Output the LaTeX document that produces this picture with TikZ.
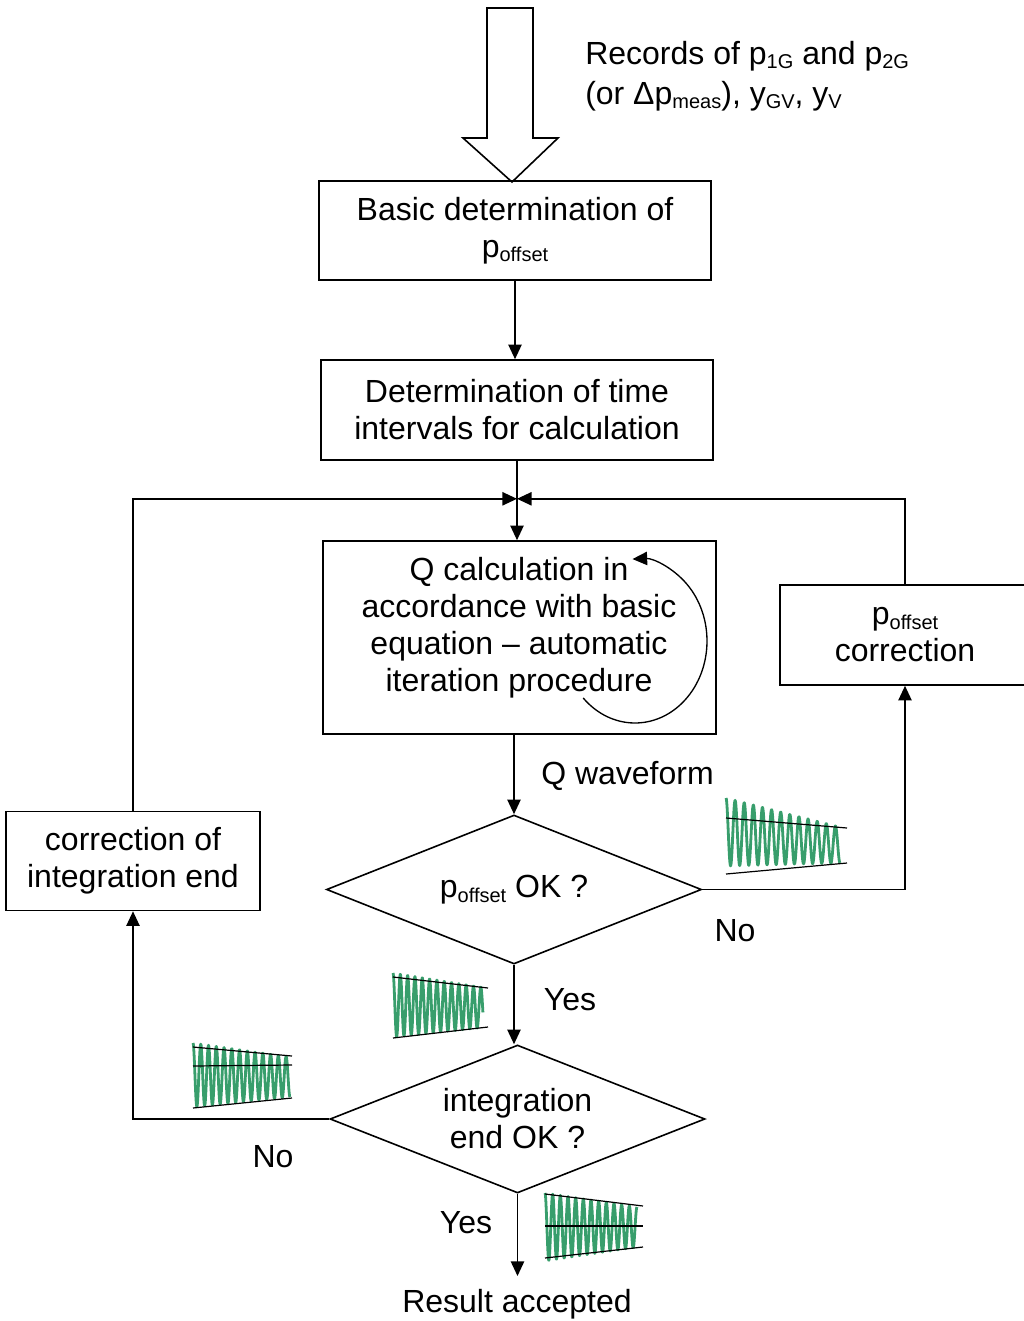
\documentclass[tikz,border=0pt]{standalone}
\usepackage{fontspec}
\setmainfont{Liberation Sans}
\usetikzlibrary{arrows.meta,shapes.geometric,calc}
\definecolor{wavegreen}{RGB}{56,158,108}
\newcommand{\lowsub}[1]{\raisebox{-3.5pt}{\fontsize{15}{15}\selectfont #1}}
% x0 x1 c0 c1 a0 a1 cycles
\newcommand{\wavedraw}[7]{%
  \draw[wavestyle] plot[domain=0:1,samples=300,variable=\t]
    ({#1+(#2-#1)*\t},{#3+(#4-#3)*\t-(#5+(#6-#5)*\t)*cos(360*#7*\t)});}
\begin{document}
\begin{tikzpicture}[x=0.75pt,y=-0.75pt,
  every node/.style={font=\fontsize{24}{27.75}\selectfont, inner sep=0pt},
  boxstyle/.style={draw, line width=1.2pt, align=center},
  decision/.style={draw, line width=1.2pt, diamond, align=center, aspect=2.5},
  conn/.style={line width=1.2pt},
  arr/.style={line width=1.2pt, -{Triangle[length=11pt,width=10pt]}},
  wavestyle/.style={draw=wavegreen, line width=2.1pt, line join=round},
  env/.style={line width=0.9pt}]
\useasboundingbox (0,0) rectangle (1024,1321);

% big hollow input arrow
\draw[line width=1.2pt, fill=white] (487,8) -- (533,8) -- (533,138) -- (558,138)
  -- (512,182) -- (463,138) -- (487,138) -- cycle;
\node[anchor=west, align=left, font=\fontsize{24}{30}\selectfont] (rec) at (585,76)
  {Records of p\lowsub{1G} and p\lowsub{2G}\\(or Δp\lowsub{meas}), y\lowsub{GV}, y\lowsub{V}};

% boxes
\node[boxstyle, minimum width=294pt, minimum height=74.25pt] (box1) at (515,230.5)
  {Basic determination of\\p\lowsub{offset}};
\node[boxstyle, minimum width=294pt, minimum height=75pt] (box2) at (517,410)
  {Determination of time\\intervals for calculation};
\node[boxstyle, minimum width=294.75pt, minimum height=144.75pt] (box3) at (519.5,637.5) {};
\node[align=center] (box3text) at (519,628)
  {Q calculation in\\accordance with basic\\equation -- automatic\\iteration procedure};
\node[boxstyle, minimum width=187.5pt, minimum height=75pt] (pcorr) at (905,635)
  {p\lowsub{offset}\\correction};
\node[boxstyle, minimum width=190.5pt, minimum height=74.25pt] (corr) at (133,861)
  {correction of\\integration end};

% decisions
\node[decision, minimum width=281.25pt, minimum height=111.75pt] (d1) at (514,889.5)
  {p\lowsub{offset} OK ?};
\node[decision, minimum width=281.25pt, minimum height=111pt] (d2) at (517.5,1119)
  {integration\\end OK ?};

% labels
\node[anchor=west] (qw) at (541,776) {Q waveform};
\node (no1) at (735,931) {No};
\node (yes1) at (570,1000) {Yes};
\node (no2) at (273,1157) {No};
\node (yes2) at (466,1223) {Yes};
\node (res) at (517,1304) {Result accepted};
\coordinate (resend) at (518,1276);

% connectors
\path (box2.south) ++(0,38) coordinate (jn);
\draw[arr] (box1.south) -- (box1.south |- box2.north);
\draw[arr] (box2.south) -- (box2.south |- box3.north);
\draw[arr] (corr.north) |- (jn);
\draw[arr] (pcorr.north) |- (jn);
\draw[arr] (box3.south -| d1.north) -- (d1.north);
\draw[arr] (d1.east) -| (pcorr.south);
\draw[arr] (d1.south) -- (d1.south |- d2.north);
\draw[arr] (d2.west) -| (corr.south);
\draw[arr] (d2.south) -- (d2.south |- resend);

% iteration loop arrow
\draw[arr, line width=1pt] ([shift={(136:72 and 82)}]635,641)
  arc[start angle=136, end angle=-92, x radius=72, y radius=82];

% waveform icons
\wavedraw{726}{840}{832}{845}{34}{18}{12.5}
\draw[env] (726,818) -- (847,828);
\draw[env] (726,874) -- (847,863);

\wavedraw{393}{483}{1005}{1007.5}{32}{20}{12.3}
\draw[env] (393,977) -- (488,988);
\draw[env] (393,1038) -- (488,1027);

\wavedraw{193}{290}{1075}{1077}{32}{20}{12.5}
\draw[env] (193,1047) -- (292,1056);
\draw[env] (193,1108) -- (292,1098);
\draw[env] (193,1066) -- (292,1065);

\wavedraw{545}{637}{1227}{1227}{34}{20}{12}
\draw[env] (545,1194) -- (643,1206);
\draw[env] (545,1258) -- (643,1247);
\draw[env] (545,1226) -- (643,1226);
\end{tikzpicture}
\end{document}
